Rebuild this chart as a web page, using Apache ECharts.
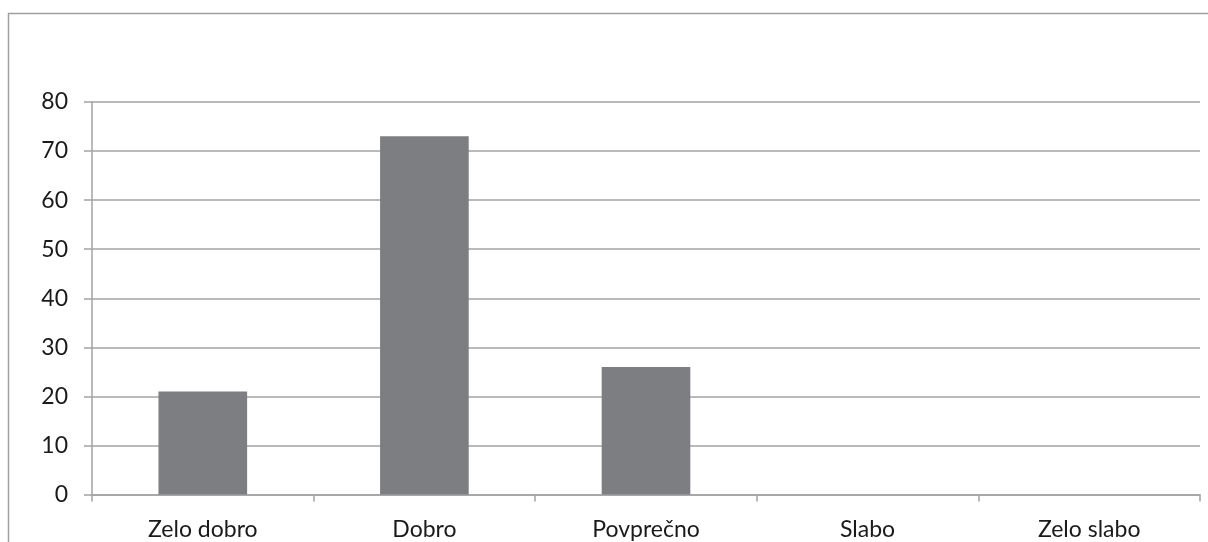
<!DOCTYPE html>
<html>
<head>
<meta charset="utf-8">
<script src="https://cdn.jsdelivr.net/npm/echarts@6/dist/echarts.min.js"></script>
<style>
  html, body { margin: 0; padding: 0; background: #fff; }
  #chart { width: 1208px; height: 542px; }
</style>
</head>
<body>
<div id="chart"></div>
<script>
// Rating categories and response counts
const categories = ['Zelo dobro', 'Dobro', 'Povprečno', 'Slabo', 'Zelo slabo'];
const counts = [21, 73, 26, 0, 0];
const yTicks = { min: 0, max: 80, interval: 10 };

const lineGray = '#a3a3a3';
const textColor = '#1a1a1a';
const fontFamily = 'Lato, "Open Sans", sans-serif';

const chart = echarts.init(document.getElementById('chart'), null, { renderer: 'canvas' });
chart.setOption({
  animation: false,
  backgroundColor: '#ffffff',
  graphic: [{
    type: 'rect',
    shape: { x: 8.5, y: 13.5, width: 1300, height: 600 },
    style: { fill: 'none', stroke: '#a0a0a0', lineWidth: 1.5 },
    silent: true
  }],
  grid: { left: 92, right: 8, top: 102, bottom: 47.5, containLabel: false },
  xAxis: {
    type: 'category',
    data: categories,
    axisLine: { lineStyle: { color: lineGray, width: 1.5 } },
    axisTick: { show: true, length: 7, alignWithLabel: false, lineStyle: { color: lineGray, width: 1.5 } },
    axisLabel: { color: textColor, fontSize: 23, fontFamily: fontFamily, margin: 24 }
  },
  yAxis: {
    type: 'value',
    min: yTicks.min,
    max: yTicks.max,
    interval: yTicks.interval,
    axisLine: { show: true, lineStyle: { color: lineGray, width: 1.5 } },
    axisTick: { show: true, length: 8, lineStyle: { color: lineGray, width: 1.5 } },
    axisLabel: { color: textColor, fontSize: 23, fontFamily: fontFamily, margin: 24 },
    splitLine: { show: true, lineStyle: { color: lineGray, width: 1.5 } }
  },
  series: [{
    type: 'bar',
    data: counts,
    barWidth: '40%',
    itemStyle: { color: '#7d7e82' }
  }]
});
</script>
</body>
</html>
